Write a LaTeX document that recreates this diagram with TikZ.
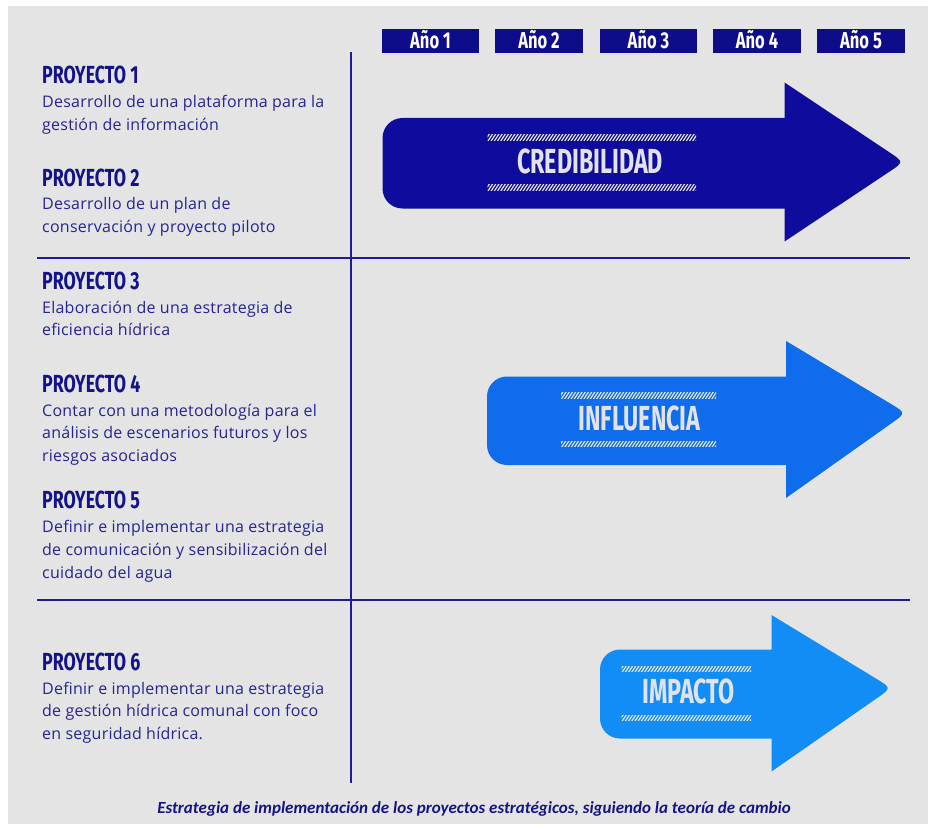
\documentclass[tikz,border=0pt]{standalone}
\usepackage{fontspec}
\setmainfont{Carlito}
\newfontfamily\bodyfont[LetterSpace=1.5]{Open Sans}
\newfontfamily\condfont[FakeStretch=0.72]{Fira Sans}
\newfontfamily\bigfont[FakeStretch=0.67]{Fira Sans}
\usetikzlibrary{calc}
\definecolor{bg}{HTML}{E4E4E4}
\definecolor{navy}{HTML}{15138C}
\definecolor{txtblue}{HTML}{26249A}
\definecolor{rulec}{HTML}{1F1C9C}
\definecolor{boxc}{HTML}{0F0C8A}
\definecolor{credc}{HTML}{0F0B9C}
\definecolor{inflc}{HTML}{0F6CEC}
\definecolor{impc}{HTML}{118DF5}
\definecolor{lblc}{HTML}{E2E2EA}
\newcommand\myarrow[9]{%
  \fill[#1,rounded corners=20pt] (#2,#3) rectangle (#5+30,#4);
  \coordinate (ht) at (#5,#6);
  \coordinate (hb) at (#5,#7);
  \coordinate (tp) at (#8+4,#9);
  \fill[#1] (ht) -- ($(tp)!18pt!(ht)$) .. controls (tp) .. ($(tp)!18pt!(hb)$) -- (hb) -- cycle;
}
\newcommand\hatch[3]{%
  \begin{scope}
    \clip (#1,#3) rectangle (#2,#3+5.5);
    \foreach \k in {0,3.2,...,240}
      \draw[lblc,line width=1.2pt] (#1+\k-6,#3+6.5) -- (#1+\k-1,#3-1);
  \end{scope}
}
\begin{document}
\begin{tikzpicture}[x=1pt,y=-1pt,
  yearbox/.style={fill=boxc,minimum height=24pt,inner sep=0pt},
  yeartxt/.style={anchor=base,inner sep=0pt,text=white,font=\condfont\bfseries\fontsize{23}{23}\selectfont},
  rulel/.style={draw=rulec,line width=2pt},
  head/.style={anchor=base west,inner sep=0pt,text=navy,font=\condfont\bfseries\fontsize{24.7}{24.7}\selectfont},
  body/.style={anchor=base west,inner sep=0pt,text=txtblue,font=\bodyfont\fontsize{16}{16}\selectfont},
  bigl/.style={anchor=base,inner sep=0pt,text=lblc,font=\bigfont\bfseries\fontsize{34.8}{34.8}\selectfont},
  capt/.style={anchor=base,inner sep=0pt,text=navy,font=\bfseries\itshape\fontsize{17}{17}\selectfont}
]
\useasboundingbox (0,0) rectangle (928,824);
\fill[white] (0,0) rectangle (928,824);
\fill[bg] (8,6) rectangle (928,824);

% year boxes
\node[yearbox,minimum width=97pt] (y1) at (430.5,41) {};
\node[yearbox,minimum width=88pt] (y2) at (539,41) {};
\node[yearbox,minimum width=97pt] (y3) at (648.5,41) {};
\node[yearbox,minimum width=88pt] (y4) at (757,41) {};
\node[yearbox,minimum width=88pt] (y5) at (861,41) {};
\node[yeartxt] (t1) at (430.5,49) {Año 1};
\node[yeartxt] (t2) at (539,49) {Año 2};
\node[yeartxt] (t3) at (648.5,49) {Año 3};
\node[yeartxt] (t4) at (757,49) {Año 4};
\node[yeartxt] (t5) at (861,49) {Año 5};

% rules
\coordinate (vt) at (351,52);
\coordinate (vb) at (351,783);
\coordinate (h1l) at (37,258);
\coordinate (h1r) at (910,258);
\coordinate (h2l) at (37,600);
\coordinate (h2r) at (910,600);
\draw[rulel] (vt) -- (vb);
\draw[rulel] (h1l) -- (h1r);
\draw[rulel] (h2l) -- (h2r);

% arrows
\myarrow{credc}{382.5}{118}{208.5}{784.5}{82.5}{241.5}{900}{162}
\hatch{487.5}{696}{134.5}
\hatch{487.5}{696}{184.5}
\node[bigl] (cred) at (590,173) {CREDIBILIDAD};

\myarrow{inflc}{487}{376.5}{465}{786}{341}{498}{902}{413}
\hatch{561}{716}{392.5}
\hatch{561}{716}{441}
\node[bigl] (infl) at (639.5,430) {INFLUENCIA};

\myarrow{impc}{600}{649.5}{738.5}{771.5}{615}{771.5}{887.5}{688}
\hatch{621.5}{751}{666}
\hatch{621.5}{751}{715}
\node[bigl] (imp) at (688.5,703) {IMPACTO};

% left texts
\node[head] (p1) at (42,84) {PROYECTO 1};
\node[body] (p1a) at (42,107) {Desarrollo de una plataforma para la};
\node[body] (p1b) at (42,130) {gestión de información};

\node[head] (p2) at (42,186) {PROYECTO 2};
\node[body] (p2a) at (42,209) {Desarrollo de un plan de};
\node[body] (p2b) at (42,232) {conservación y proyecto piloto};

\node[head] (p3) at (42,289.5) {PROYECTO 3};
\node[body] (p3a) at (42,313) {Elaboración de una estrategia de};
\node[body] (p3b) at (42,335) {eficiencia hídrica};

\node[head] (p4) at (42,392.5) {PROYECTO 4};
\node[body] (p4a) at (42,416) {Contar con una metodología para el};
\node[body] (p4b) at (42,438) {análisis de escenarios futuros y los};
\node[body] (p4c) at (42,461) {riesgos asociados};

\node[head] (p5) at (42,508.5) {PROYECTO 5};
\node[body] (p5a) at (42,532) {Definir e implementar una estrategia};
\node[body] (p5b) at (42,555) {de comunicación y sensibilización del};
\node[body] (p5c) at (42,578) {cuidado del agua};

\node[head] (p6) at (42,670.5) {PROYECTO 6};
\node[body] (p6a) at (42,694) {Definir e implementar una estrategia};
\node[body] (p6b) at (42,716) {de gestión hídrica comunal con foco};
\node[body] (p6c) at (42,739) {en seguridad hídrica.};

\node[capt] (cap) at (474,813) {Estrategia de implementación de los proyectos estratégicos, siguiendo la teoría de cambio};
\end{tikzpicture}
\end{document}
